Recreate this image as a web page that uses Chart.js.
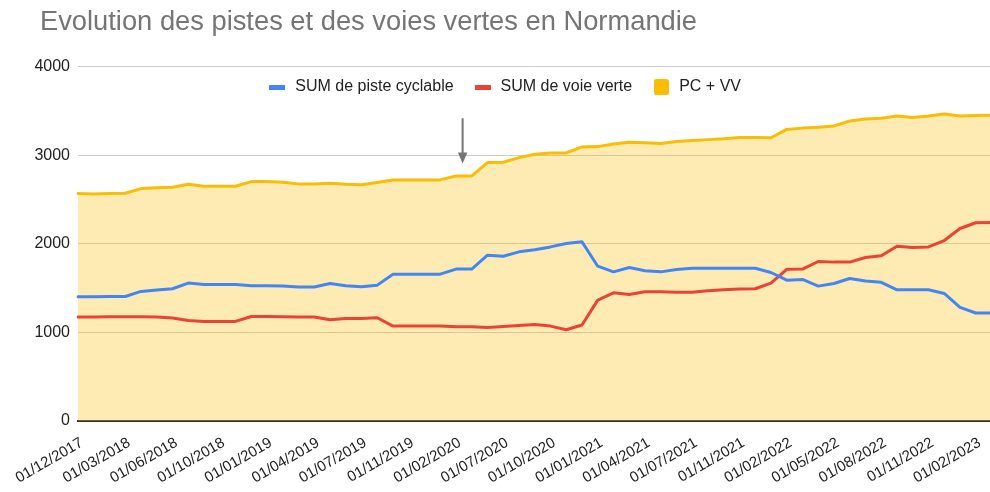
<!DOCTYPE html>
<html>
<head>
<meta charset="utf-8">
<script src="https://cdn.jsdelivr.net/npm/chart.js@4.4.1/dist/chart.umd.min.js"></script>
<style>
  html, body { margin: 0; padding: 0; background: #fff; overflow: hidden; width: 990px; height: 492px; }
  canvas { display: block; }
</style>
</head>
<body>
<canvas id="c" width="1000" height="492"></canvas>
<script>
const TITLE = 'Evolution des pistes et des voies vertes en Normandie';

const categories = [
  '01/12/2017','01/01/2018','01/02/2018','01/03/2018','01/04/2018','01/05/2018','01/06/2018','01/07/2018','01/09/2018','01/10/2018',
  '01/11/2018','01/12/2018','01/01/2019','01/02/2019','01/03/2019','01/04/2019','01/05/2019','01/06/2019','01/07/2019','01/09/2019',
  '01/10/2019','01/11/2019','01/12/2019','01/01/2020','01/02/2020','01/03/2020','01/06/2020','01/07/2020','01/08/2020','01/09/2020',
  '01/10/2020','01/11/2020','01/12/2020','01/01/2021','01/02/2021','01/03/2021','01/04/2021','01/05/2021','01/06/2021','01/07/2021',
  '01/09/2021','01/10/2021','01/11/2021','01/12/2021','01/01/2022','01/02/2022','01/03/2022','01/04/2022','01/05/2022','01/06/2022',
  '01/07/2022','01/08/2022','01/09/2022','01/10/2022','01/11/2022','01/12/2022','01/01/2023','01/02/2023','01/03/2023'
];

const pisteCyclable = [
  1403,1403,1407,1407,1464,1479,1494,1558,1543,1543,
  1543,1528,1528,1524,1513,1513,1554,1528,1516,1535,
  1659,1659,1659,1659,1716,1716,1874,1862,1911,1935,
  1967,2005,2024,1749,1685,1735,1697,1685,1712,1725,
  1725,1725,1725,1725,1678,1591,1599,1524,1554,1610,
  1582,1567,1482,1482,1482,1441,1283,1220,1220
];

const voieVerte = [
  1174,1174,1177,1177,1177,1174,1163,1136,1125,1125,
  1125,1181,1181,1177,1174,1174,1144,1159,1159,1166,
  1072,1072,1072,1072,1065,1065,1057,1068,1080,1090,
  1072,1031,1084,1366,1448,1430,1460,1460,1454,1454,
  1471,1482,1492,1494,1557,1714,1716,1802,1795,1795,
  1847,1866,1975,1960,1967,2039,2175,2240,2242
];

const pcVv = [
  2570,2566,2570,2573,2626,2634,2641,2675,2652,2652,
  2652,2705,2705,2698,2679,2679,2686,2675,2668,2694,
  2724,2724,2724,2724,2769,2769,2920,2923,2976,3014,
  3029,3029,3097,3100,3130,3149,3145,3134,3157,3168,
  3179,3188,3202,3204,3200,3294,3309,3318,3334,3390,
  3412,3420,3446,3430,3446,3469,3446,3452,3454
];

const yTicks = [0, 1000, 2000, 3000, 4000];
const seriesNames = ['SUM de piste cyclable', 'SUM de voie verte', 'PC + VV'];
const seriesColors = ['#4285F4', '#EA4335', '#FBBC04'];
const arrowAt = { index: 24.42, from: 3420, to: 2910 };

function barIcon(color) {
  const c = document.createElement('canvas');
  c.width = 16; c.height = 5;
  const g = c.getContext('2d');
  g.fillStyle = color; g.fillRect(0, 0, 16, 5);
  return c;
}
function squareIcon(color) {
  const c = document.createElement('canvas');
  c.width = 15; c.height = 16;
  const g = c.getContext('2d');
  g.fillStyle = color;
  g.beginPath();
  if (g.roundRect) g.roundRect(0, 0, 15, 16, 2.5); else g.rect(0, 0, 15, 16);
  g.fill();
  return c;
}
const icons = [barIcon(seriesColors[0]), barIcon(seriesColors[1]), squareIcon(seriesColors[2])];

const layoutTweaks = {
  id: 'layoutTweaks',
  afterLayout(chart) {
    const l = chart.legend;
    if (l) {
      const p = l.options.labels.padding;
      const mid = l.top + p + 8;
      const dy = 87 - mid;
      l.top += dy;
      l.bottom = l.top + 60;
      l.height = 60;
      l.left = 267.3 - p;
      l.width = l.right - l.left;
    }
    const t = chart.titleBlock;
    if (t) { t.left = 40; t.width = t.right - t.left; }
  }
};

const arrowPlugin = {
  id: 'arrow',
  afterDatasetsDraw(chart) {
    const xs = chart.scales.x, ys = chart.scales.y;
    const i0 = Math.floor(arrowAt.index), f = arrowAt.index - i0;
    const x = xs.getPixelForValue(i0) * (1 - f) + xs.getPixelForValue(i0 + 1) * f;
    const y1 = ys.getPixelForValue(arrowAt.from);
    const y2 = ys.getPixelForValue(arrowAt.to);
    const ctx = chart.ctx;
    ctx.save();
    ctx.strokeStyle = '#757575';
    ctx.fillStyle = '#757575';
    ctx.lineWidth = 2;
    ctx.beginPath();
    ctx.moveTo(x, y1);
    ctx.lineTo(x, y2 - 10);
    ctx.stroke();
    ctx.beginPath();
    ctx.moveTo(x - 4.7, y2 - 11);
    ctx.lineTo(x + 4.7, y2 - 11);
    ctx.lineTo(x, y2);
    ctx.closePath();
    ctx.fill();
    ctx.restore();
  }
};

const seriesData = [pisteCyclable, voieVerte, pcVv];

new Chart(document.getElementById('c'), {
  type: 'line',
  data: {
    labels: categories,
    datasets: seriesData.map((d, i) => ({
      label: seriesNames[i],
      data: d,
      borderColor: seriesColors[i],
      backgroundColor: i === 2 ? 'rgba(251,188,4,0.3)' : seriesColors[i],
      fill: i === 2 ? 'origin' : false,
      borderWidth: 3,
      pointRadius: 0,
      pointHoverRadius: 0,
      tension: 0,
      borderJoinStyle: 'round',
      borderCapStyle: 'round'
    }))
  },
  options: {
    responsive: false,
    animation: false,
    devicePixelRatio: 1,
    layout: { padding: { left: 0, right: 8.5, top: 0, bottom: 0 } },
    plugins: {
      title: {
        display: true,
        text: TITLE,
        align: 'start',
        color: '#757575',
        font: { family: "'Liberation Sans', Arial, sans-serif", size: 27.3, weight: 'normal', lineHeight: 1.2 },
        padding: { top: 6, bottom: 0 }
      },
      legend: {
        display: true,
        position: 'top',
        align: 'start',
        maxHeight: 28.2,
        labels: {
          usePointStyle: true,
          pointStyleWidth: 20,
          padding: 19,
          color: '#222222',
          font: { family: "'Liberation Sans', Arial, sans-serif", size: 16 },
          generateLabels(chart) {
            return chart.data.datasets.map((ds, i) => ({
              text: ds.label,
              pointStyle: icons[i],
              fillStyle: seriesColors[i],
              strokeStyle: seriesColors[i],
              lineWidth: 0,
              fontColor: '#222222',
              hidden: false,
              datasetIndex: i
            }));
          }
        }
      },
      tooltip: { enabled: false }
    },
    scales: {
      x: {
        type: 'category',
        offset: false,
        grid: { display: false, drawTicks: false },
        border: { display: true, color: '#333333', width: 2 },
        ticks: {
          autoSkip: false,
          maxRotation: 30,
          minRotation: 30,
          padding: 13,
          labelOffset: 4,
          color: '#222222',
          font: { family: "'Liberation Sans', Arial, sans-serif", size: 15 },
          callback(value, index) { return index % 3 === 0 ? categories[index] : ''; }
        },
        afterFit(scale) { scale.height = 71; scale.paddingLeft = 0; scale.paddingRight = 0; }
      },
      y: {
        min: 0,
        max: 4000,
        afterBuildTicks(scale) { scale.ticks = yTicks.map(v => ({ value: v })); },
        grid: { color: '#cccccc', lineWidth: 1, drawTicks: false },
        border: { display: false },
        ticks: {
          padding: 8,
          color: '#222222',
          font: { family: "'Liberation Sans', Arial, sans-serif", size: 16 },
          callback(v) { return String(v); }
        },
        afterFit(scale) { scale.width = 78; }
      }
    }
  },
  plugins: [layoutTweaks, arrowPlugin]
});
</script>
</body>
</html>
